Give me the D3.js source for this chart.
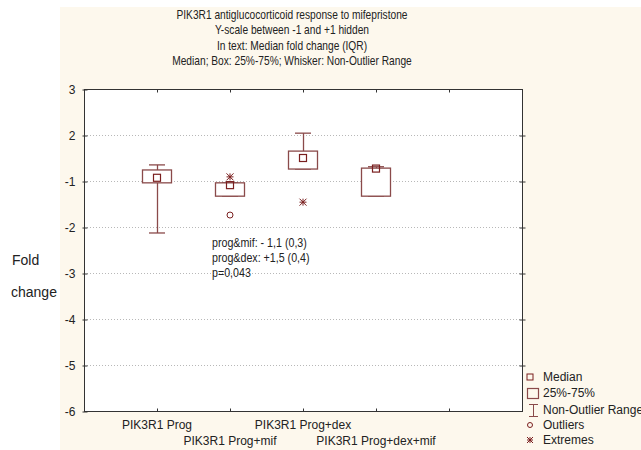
<!DOCTYPE html>
<html>
<head>
<meta charset="utf-8">
<title>PIK3R1 box plot</title>
<script src="https://d3js.org/d3.v7.min.js"></script>
<style>
  body { margin: 0; background: #fff; }
  svg text { font-family: Arial, "Liberation Sans", sans-serif; fill: #222; }
</style>
</head>
<body>
<script>
// data (fold change, y-scale between -1 and +1 hidden)
var categories = ["PIK3R1 Prog", "PIK3R1 Prog+mif", "PIK3R1 Prog+dex", "PIK3R1 Prog+dex+mif"];
var whiskerLow  = [-2.13, -1.33, 1.26, -1.33];
var q1          = [-1.04, -1.33, 1.26, -1.33];
var median      = [1.07, -1.09, 1.50, 1.27];
var q3          = [1.24, -1.04, 1.65, 1.28];
var whiskerHigh = [1.35, -1.04, 2.04, 1.31];
var outlierCat = [1];
var outlierVal = [-1.74];
var extremeCat = [1, 2];
var extremeVal = [1.09, -1.46];
var yTicks = [3, 2, -1, -2, -3, -4, -5, -6];
var titleLines = [
  "PIK3R1 antiglucocorticoid response to mifepristone",
  "Y-scale between -1 and +1 hidden",
  "In text: Median fold change (IQR)",
  "Median; Box: 25%-75%; Whisker: Non-Outlier Range"
];
var noteLines = ["prog&mif: - 1,1 (0,3)", "prog&dex: +1,5 (0,4)", "p=0,043"];
var legendLabels = ["Median", "25%-75%", "Non-Outlier Range", "Outliers", "Extremes"];

var W = 641, H = 450;
var plotLeft = 84, plotRight = 522, plotTop = 89, plotBottom = 411;
var boxColor = "#8a4a4a", medColor = "#7a1f1f";

// hide the -1..+1 gap
function fold(v) { return v > 0 ? v - 1 : v + 1; }

var x = d3.scaleLinear().domain([0, 6]).range([plotLeft, plotRight]);
var yLin = d3.scaleLinear().domain([-5, 2]).range([plotBottom, plotTop]);
var y = function(v) { return yLin(fold(v)); };

var svg = d3.select("body").append("svg")
    .attr("width", W).attr("height", H);

svg.append("rect").attr("x", 60).attr("y", 7)
    .attr("width", W - 60).attr("height", H - 7).attr("fill", "#fdf8ed");
svg.append("rect").attr("x", plotLeft).attr("y", plotTop)
    .attr("width", plotRight - plotLeft).attr("height", plotBottom - plotTop).attr("fill", "#fff");

// title (narrow face in the original)
svg.append("g").attr("transform", "translate(292,0) scale(0.85,1)")
  .selectAll("text").data(titleLines).enter().append("text")
    .attr("x", 0).attr("y", function(d, i) { return 19 + i * 15.3; })
    .attr("text-anchor", "middle").style("font-size", "12px")
    .text(function(d) { return d; });

// gridlines
svg.append("g").selectAll("line").data(yTicks.slice(1, -1)).enter().append("line")
    .attr("x1", plotLeft).attr("x2", plotRight)
    .attr("y1", function(d) { return y(d) + 0.5; }).attr("y2", function(d) { return y(d) + 0.5; })
    .attr("stroke", "#b8b8b8").attr("stroke-dasharray", "1,2");

// y axis
var yAxis = d3.axisLeft(yLin)
    .tickValues(yTicks.map(fold))
    .tickFormat(function(t) { return t > 0 ? t + 1 : t - 1; })
    .tickSize(2).tickPadding(7);
var ya = svg.append("g").attr("transform", "translate(" + (plotLeft + 0.5) + ",0.5)").call(yAxis);
ya.select(".domain").remove();
ya.selectAll("line").attr("stroke", "#333").attr("x2", 3).attr("x1", -2);
ya.selectAll("text").style("font-size", "12px").attr("fill", "#222");

var yr = svg.append("g").attr("transform", "translate(" + (plotRight + 0.5) + ",0.5)")
    .call(d3.axisRight(yLin).tickValues(yTicks.slice(1, -1).map(fold)).tickSize(3).tickFormat(""));
yr.select(".domain").remove();
yr.selectAll("line").attr("stroke", "#333").attr("x1", -3);

// x ticks top and bottom (inward)
var xt = [1, 2, 3, 4, 5];
var xb = svg.append("g").attr("transform", "translate(0," + (plotBottom + 0.5) + ")")
    .call(d3.axisTop(x).tickValues(xt).tickSize(3).tickFormat(""));
xb.select(".domain").remove();
xb.selectAll("line").attr("stroke", "#333");
var xtop = svg.append("g").attr("transform", "translate(0," + (plotTop + 0.5) + ")")
    .call(d3.axisBottom(x).tickValues(xt).tickSize(3).tickFormat(""));
xtop.select(".domain").remove();
xtop.selectAll("line").attr("stroke", "#333");

// frame
svg.append("rect").attr("x", plotLeft + 0.5).attr("y", plotTop + 0.5)
    .attr("width", plotRight - plotLeft).attr("height", plotBottom - plotTop)
    .attr("fill", "none").attr("stroke", "#333");

// category labels (staggered)
svg.append("g").selectAll("text").data(categories).enter().append("text")
    .attr("x", function(d, i) { return x(i + 1); })
    .attr("y", function(d, i) { return i % 2 ? 445 : 429; })
    .attr("text-anchor", "middle").style("font-size", "12px")
    .text(function(d) { return d; });

// axis title
svg.append("text").attr("x", 12).attr("y", 265).style("font-size", "14px").text("Fold");
svg.append("text").attr("x", 11).attr("y", 297).style("font-size", "14px").text("change");

// boxes
var bw = 29, cw = 16;
var boxes = svg.append("g").selectAll("g").data(categories).enter().append("g");
boxes.append("line")
    .attr("x1", function(d, i) { return Math.round(x(i + 1)) + 0.5; })
    .attr("x2", function(d, i) { return Math.round(x(i + 1)) + 0.5; })
    .attr("y1", function(d, i) { return y(whiskerHigh[i]); })
    .attr("y2", function(d, i) { return y(whiskerLow[i]); })
    .attr("stroke", boxColor).attr("stroke-width", 1.3);
[whiskerHigh, whiskerLow].forEach(function(arr) {
  boxes.append("line")
      .attr("x1", function(d, i) { return x(i + 1) - cw / 2; })
      .attr("x2", function(d, i) { return x(i + 1) + cw / 2; })
      .attr("y1", function(d, i) { return y(arr[i]); })
      .attr("y2", function(d, i) { return y(arr[i]); })
      .attr("stroke", boxColor).attr("stroke-width", 1.3);
});
boxes.append("rect")
    .attr("x", function(d, i) { return x(i + 1) - bw / 2; })
    .attr("y", function(d, i) { return y(q3[i]); })
    .attr("width", bw)
    .attr("height", function(d, i) { return y(q1[i]) - y(q3[i]); })
    .attr("fill", "#fff").attr("stroke", boxColor).attr("stroke-width", 1.3);
boxes.append("rect")
    .attr("x", function(d, i) { return x(i + 1) - 3.5; })
    .attr("y", function(d, i) { return y(median[i]) - 3.5; })
    .attr("width", 7).attr("height", 7)
    .attr("fill", "none").attr("stroke", medColor).attr("stroke-width", 1.2);

// outliers and extremes
svg.append("g").selectAll("circle").data(outlierVal).enter().append("circle")
    .attr("cx", function(d, i) { return x(outlierCat[i] + 1); })
    .attr("cy", function(d) { return y(d); })
    .attr("r", 3).attr("fill", "none").attr("stroke", medColor);

function star(g, cx, cy, s) {
  var p = [[-s, 0, s, 0], [0, -s, 0, s], [-s, -s, s, s], [-s, s, s, -s]];
  p.forEach(function(l) {
    g.append("line").attr("x1", cx + l[0]).attr("y1", cy + l[1])
        .attr("x2", cx + l[2]).attr("y2", cy + l[3])
        .attr("stroke", medColor).attr("stroke-width", 1);
  });
}
var ex = svg.append("g");
extremeVal.forEach(function(v, i) { star(ex, x(extremeCat[i] + 1), y(v), 3.5); });

// note text
svg.append("g").attr("transform", "translate(212,0) scale(0.89,1)")
  .selectAll("text").data(noteLines).enter().append("text")
    .attr("x", 0).attr("y", function(d, i) { return 247 + i * 15; })
    .style("font-size", "12px").text(function(d) { return d; });

// legend
var lg = svg.append("g");
var ly = [377, 393, 410, 425, 440];
lg.selectAll("text").data(legendLabels).enter().append("text")
    .attr("x", 543).attr("y", function(d, i) { return ly[i] + 4; })
    .style("font-size", "12px").text(function(d) { return d; });
lg.append("rect").attr("x", 527).attr("y", ly[0] - 3).attr("width", 6).attr("height", 6)
    .attr("fill", "none").attr("stroke", medColor);
lg.append("rect").attr("x", 527.5).attr("y", 388.5).attr("width", 11).attr("height", 10)
    .attr("fill", "none").attr("stroke", boxColor).attr("stroke-width", 1.2);
lg.append("line").attr("x1", 533.5).attr("x2", 533.5).attr("y1", 404).attr("y2", 417).attr("stroke", boxColor);
lg.append("line").attr("x1", 529).attr("x2", 538).attr("y1", 404.5).attr("y2", 404.5).attr("stroke", boxColor);
lg.append("line").attr("x1", 529).attr("x2", 538).attr("y1", 416.5).attr("y2", 416.5).attr("stroke", boxColor);
lg.append("circle").attr("cx", 530).attr("cy", ly[3]).attr("r", 2.5)
    .attr("fill", "none").attr("stroke", medColor);
star(lg, 530, ly[4], 3);
</script>
</body>
</html>
